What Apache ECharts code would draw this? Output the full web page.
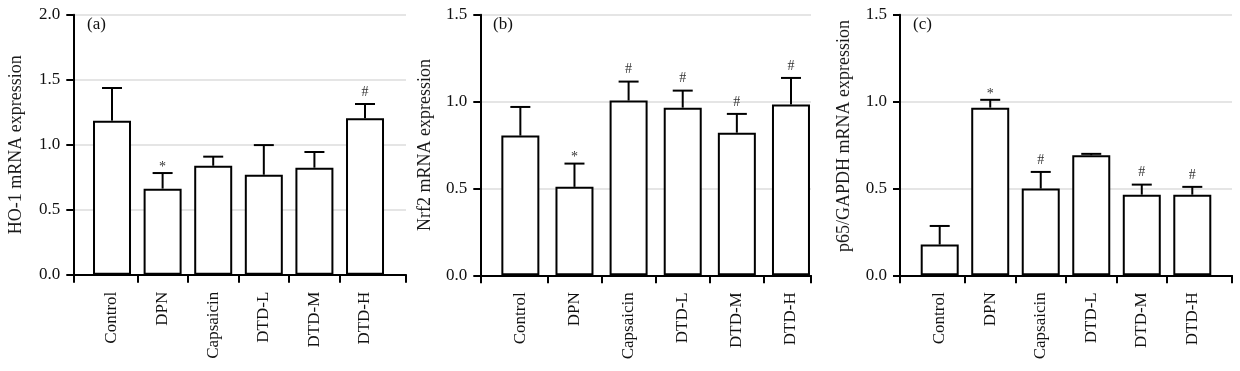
<!DOCTYPE html>
<html>
<head>
<meta charset="utf-8">
<script src="https://cdn.jsdelivr.net/npm/echarts@6/dist/echarts.min.js"></script>
<style>
html,body{margin:0;padding:0;background:#fff;}
#chart{width:1240px;height:371px;}
</style>
</head>
<body>
<div id="chart"></div>
<script>
var categories = ['Control', 'DPN', 'Capsaicin', 'DTD-L', 'DTD-M', 'DTD-H'];
var yTicksA = [0, 0.5, 1.0, 1.5, 2.0];
var yTicksBC = [0, 0.5, 1.0, 1.5];

var hoMean = [1.185, 0.662, 0.838, 0.769, 0.823, 1.203];
var hoErr  = [0.251, 0.120, 0.070, 0.228, 0.121, 0.110];
var hoMarks = ['', '*', '', '', '', '#'];

var nrfMean = [0.804, 0.509, 1.006, 0.965, 0.821, 0.983];
var nrfErr  = [0.165, 0.134, 0.109, 0.098, 0.108, 0.153];
var nrfMarks = ['', '*', '#', '#', '#', '#'];

var p65Mean = [0.177, 0.965, 0.499, 0.691, 0.464, 0.464];
var p65Err  = [0.107, 0.045, 0.096, 0.008, 0.058, 0.045];
var p65Marks = ['', '*', '#', '', '#', '#'];

var FONT = 'Liberation Serif';
var chart = echarts.init(document.getElementById('chart'));

var panels = [
  {label:'(a)', name:'HO-1 mRNA expression', mean:hoMean, err:hoErr, marks:hoMarks, ticks:yTicksA,
   grid:{left:73.3, top:14.7, width:332.7, height:260}, xMin:-0.765, xMax:5.81, nameGap:48, namePad:[0,0,0,0], titleLeft:82},
  {label:'(b)', name:'Nrf2 mRNA expression', mean:nrfMean, err:nrfErr, marks:nrfMarks, ticks:yTicksBC,
   grid:{left:480.3, top:14.7, width:330.7, height:260.6}, xMin:-0.74, xMax:5.37, nameGap:46, namePad:[0,0,0,0], titleLeft:488},
  {label:'(c)', name:'p65/GAPDH mRNA expression', mean:p65Mean, err:p65Err, marks:p65Marks, ticks:yTicksBC,
   grid:{left:900, top:14.7, width:332, height:260.6}, xMin:-0.786, xMax:5.786, nameGap:47, namePad:[0,0,0,18], titleLeft:908}
];

var option = {
  animation:false,
  backgroundColor:'#fff',
  title:[], grid:[], xAxis:[], yAxis:[], series:[]
};

panels.forEach(function(p, k){
  option.title.push({text:p.label, left:p.titleLeft, top:11,
    textStyle:{fontFamily:FONT, fontSize:17, fontWeight:'normal', color:'#111'}});
  option.grid.push(Object.assign({outerBoundsMode:'none', containLabel:false}, p.grid));
  var ticksX = [p.xMin, 0.5, 1.5, 2.5, 3.5, 4.5, p.xMax];
  option.xAxis.push({
    type:'value', gridIndex:k, min:p.xMin, max:p.xMax,
    splitLine:{show:false},
    axisLine:{show:true, onZero:false, lineStyle:{color:'#000', width:2}},
    axisTick:{show:true, customValues:ticksX, length:8, inside:false, lineStyle:{color:'#000', width:2}},
    axisLabel:{show:true, customValues:[0,1,2,3,4,5], rotate:90, margin:17,
      fontFamily:FONT, fontSize:17, color:'#111',
      formatter:function(v){ return categories[Math.round(v)]; }}
  });
  var yMax = p.ticks[p.ticks.length-1];
  option.yAxis.push({
    type:'value', gridIndex:k, min:0, max:yMax, interval:0.5,
    name:p.name, nameLocation:'middle', nameRotate:90, nameGap:p.nameGap,
    nameTextStyle:{fontFamily:FONT, fontSize:18, color:'#1a1a1a', padding:p.namePad},
    axisLine:{show:true, onZero:false, lineStyle:{color:'#000', width:2}},
    axisTick:{show:true, length:7, lineStyle:{color:'#000', width:2}},
    axisLabel:{margin:13, fontFamily:FONT, fontSize:17, color:'#111',
      formatter:function(v){ return v.toFixed(1); }},
    splitLine:{show:true, lineStyle:{color:'#dcdcdc', width:1.5}}
  });
  var barData = p.mean.map(function(v,i){ return [i, v]; });
  option.series.push({
    type:'bar', xAxisIndex:k, yAxisIndex:k, data:barData, barWidth:38, z:2,
    itemStyle:{color:'#fff', borderColor:'#000', borderWidth:2},
    silent:true
  });
  var errData = p.mean.map(function(v,i){ return [i, v, v + p.err[i]]; });
  var marks = p.marks;
  option.series.push({
    type:'custom', xAxisIndex:k, yAxisIndex:k, data:errData, z:3, silent:true,
    encode:{x:0, y:[1,2]},
    renderItem:function(params, api){
      var x = api.value(0), m = api.value(1), u = api.value(2);
      var pm = api.coord([x, m]);
      var pu = api.coord([x, u]);
      var children = [
        {type:'line', shape:{x1:pm[0], y1:pm[1], x2:pu[0], y2:pu[1]}, style:{stroke:'#000', lineWidth:2}},
        {type:'line', shape:{x1:pu[0]-10, y1:pu[1], x2:pu[0]+10, y2:pu[1]}, style:{stroke:'#000', lineWidth:2}}
      ];
      var mk = marks[params.dataIndex];
      if (mk) {
        children.push({type:'text', style:{text:mk, x:pu[0], y:pu[1] - (mk === '*' ? 6 : 12),
          align:'center', verticalAlign:'middle', fontFamily:FONT, fontSize:14, fill:'#333'}});
      }
      return {type:'group', children:children};
    }
  });
});

chart.setOption(option);
</script>
</body>
</html>
